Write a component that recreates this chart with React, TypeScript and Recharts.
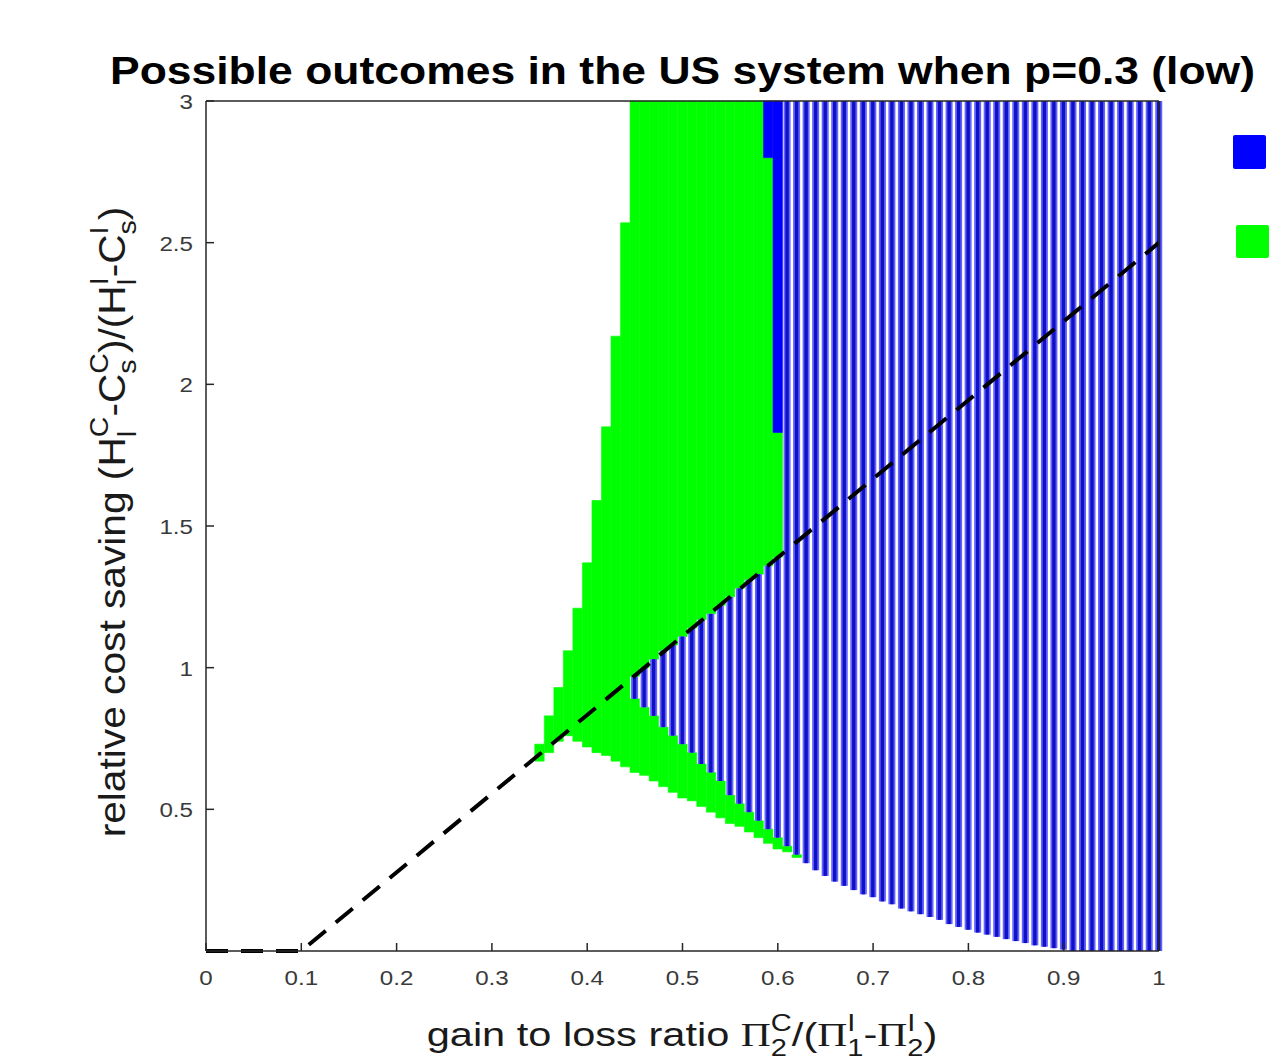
import React from "react";
import { Bar, ComposedChart, Legend, Line, XAxis, YAxis } from "recharts";

const FONT = '"Liberation Sans", Arial, Helvetica, sans-serif';
const SERIF = '"Liberation Serif", "Times New Roman", serif';
const BLUE = "#0000ff";
const GREEN = "#00ff00";
const AXIS = "#262626";

const xTicks = [0, 0.1, 0.2, 0.3, 0.4, 0.5, 0.6, 0.7, 0.8, 0.9, 1];
const yTicks = [0.5, 1, 1.5, 2, 2.5, 3];

// green columns above the dashed line (whole column left of 0.45)
const greenUpperX = [
  0.35, 0.36, 0.37, 0.38, 0.39, 0.4, 0.41, 0.42, 0.43, 0.44, 0.45, 0.46, 0.47,
  0.48, 0.49, 0.5, 0.51, 0.52, 0.53, 0.54, 0.55, 0.56, 0.57, 0.58, 0.59, 0.6,
];
const greenTipLow = [0.67, 0.7, 0.74, 0.76, 0.74, 0.72, 0.7, 0.69, 0.67, 0.65];
// where the green meets the stripes, along the dashed line (x = 0.45 .. 0.60)
const dashedEdge = [
  0.97, 1.0, 1.03, 1.06, 1.08, 1.11, 1.14, 1.17, 1.19, 1.22, 1.25, 1.28, 1.31,
  1.33, 1.36, 1.39,
];
const greenUpperHigh = [
  0.73, 0.83, 0.93, 1.06, 1.21, 1.37, 1.59, 1.85, 2.17, 2.57, 3, 3, 3, 3, 3, 3,
  3, 3, 3, 3, 3, 3, 3, 3, 2.8, 1.83,
];

// green triangle under the stripes
const greenLowerX = [
  0.45, 0.46, 0.47, 0.48, 0.49, 0.5, 0.51, 0.52, 0.53, 0.54, 0.55, 0.56, 0.57,
  0.58, 0.59, 0.6, 0.61, 0.62,
];
const greenLowerLow = [
  0.63, 0.62, 0.6, 0.58, 0.56, 0.54, 0.53, 0.51, 0.49, 0.47, 0.45, 0.44, 0.42,
  0.4, 0.38, 0.36, 0.35, 0.33,
];

// blue hatched columns
const stripeX = [
  0.45, 0.46, 0.47, 0.48, 0.49, 0.5, 0.51, 0.52, 0.53, 0.54, 0.55, 0.56, 0.57,
  0.58, 0.59, 0.6, 0.61, 0.62, 0.63, 0.64, 0.65, 0.66, 0.67, 0.68, 0.69, 0.7,
  0.71, 0.72, 0.73, 0.74, 0.75, 0.76, 0.77, 0.78, 0.79, 0.8, 0.81, 0.82, 0.83,
  0.84, 0.85, 0.86, 0.87, 0.88, 0.89, 0.9, 0.91, 0.92, 0.93, 0.94, 0.95, 0.96,
  0.97, 0.98, 0.99, 1,
];
const stripeLow = [
  0.89, 0.86, 0.83, 0.79, 0.76, 0.73, 0.7, 0.66, 0.63, 0.6, 0.55, 0.52, 0.49,
  0.46, 0.43, 0.4, 0.37, 0.34, 0.31, 0.285, 0.265, 0.245, 0.23, 0.215, 0.2,
  0.19, 0.175, 0.165, 0.15, 0.14, 0.13, 0.12, 0.11, 0.095, 0.085, 0.075, 0.065,
  0.058, 0.05, 0.042, 0.035, 0.028, 0.02, 0.015, 0.01, 0.005, 0, 0, 0, 0, 0, 0,
  0, 0, 0, 0,
];
const stripeTop = 3;

// solid blue block next to the green
const solidX = [0.59, 0.6];
const solidLow = [2.8, 1.83];
const solidHigh = [3, 3];

// dashed boundary line
const dashX = [0, 0.1, 1];
const dashY = [0, 0, 2.5];

type Row = { x: number; [k: string]: number | number[] };
const rowMap = new Map<string, Row>();
function put(xs: number[], key: string, lo: number[], hi: number[]) {
  xs.forEach((x, i) => {
    const k = x.toFixed(2);
    const row = rowMap.get(k) ?? { x };
    row[key] = [lo[i], hi[i]];
    rowMap.set(k, row);
  });
}
put(greenUpperX, "greenUpper", [...greenTipLow, ...dashedEdge], greenUpperHigh);
put(greenLowerX, "greenLower", greenLowerLow, stripeLow.slice(0, greenLowerX.length));
put(
  stripeX,
  "stripe",
  stripeLow,
  stripeX.map((_, i) => (i < dashedEdge.length ? dashedEdge[i] : stripeTop)),
);
put(solidX, "solid", solidLow, solidHigh);
const rows = [...rowMap.values()].sort((a, b) => a.x - b.x);
const dashData = dashX.map((x, i) => ({ x, y: dashY[i] }));

function Stripe(props: any) {
  const { x, y, width, height } = props;
  if (!height || !Number.isFinite(y)) return null;
  const top = Math.min(y, y + height);
  const h = Math.abs(height);
  return (
    <g>
      <rect x={x} y={top} width={width} height={h} fill="#6262ff" />
      <rect x={x + 1.8} y={top} width={width - 3.6} height={h} fill="#1010c4" />
    </g>
  );
}

function XTick({ x, y, payload }: any) {
  return (
    <g transform={`translate(${x},${y})`}>
      <text
        transform="scale(1.15,1)"
        textAnchor="middle"
        dy={16}
        fontFamily={FONT}
        fontSize={21}
        fill="#3a3a3a"
      >
        {String(payload.value)}
      </text>
    </g>
  );
}

function YTick({ x, y, payload }: any) {
  return (
    <g transform={`translate(${x},${y})`}>
      <text
        transform="scale(1.15,1)"
        textAnchor="end"
        dy={8}
        fontFamily={FONT}
        fontSize={21}
        fill="#3a3a3a"
      >
        {String(payload.value)}
      </text>
    </g>
  );
}

type Part = { t: string; serif?: boolean } | { sup: string; sub: string };
const ADV: Record<string, number> = { C: 0.722, I: 0.278, l: 0.222, s: 0.5, "1": 0.556, "2": 0.556 };

function rich(parts: Part[], fs: number) {
  const small = fs * 0.7;
  const up = fs * 0.45;
  const down = fs * 0.3;
  let dx = 0;
  let dy = 0;
  const out: React.ReactNode[] = [];
  parts.forEach((p, i) => {
    if ("t" in p) {
      out.push(
        <tspan key={i} dx={dx || undefined} dy={dy || undefined} fontSize={fs} fontFamily={p.serif ? SERIF : FONT}>
          {p.t}
        </tspan>,
      );
      dx = 0;
      dy = 0;
    } else {
      const wSup = (ADV[p.sup] ?? 0.6) * small;
      const wSub = (ADV[p.sub] ?? 0.6) * small;
      out.push(
        <tspan key={i + "a"} dx={dx || undefined} dy={dy - up} fontSize={small}>
          {p.sup}
        </tspan>,
        <tspan key={i + "b"} dx={-wSup} dy={up + down} fontSize={small}>
          {p.sub}
        </tspan>,
      );
      dx = Math.max(0, wSup - wSub);
      dy = -down;
    }
  });
  return out;
}

const yLabelParts: Part[] = [
  { t: "relative cost saving (H" },
  { sup: "C", sub: "l" },
  { t: "-C" },
  { sup: "C", sub: "s" },
  { t: ")/(H" },
  { sup: "I", sub: "l" },
  { t: "-C" },
  { sup: "I", sub: "s" },
  { t: ")" },
];
const xLabelParts: Part[] = [
  { t: "gain to loss ratio " },
  { t: "\u03A0", serif: true },
  { sup: "C", sub: "2" },
  { t: "/(" },
  { t: "\u03A0", serif: true },
  { sup: "I", sub: "1" },
  { t: "-" },
  { t: "\u03A0", serif: true },
  { sup: "I", sub: "2" },
  { t: ")" },
];

function LegendBoxes() {
  return (
    <div style={{ position: "relative", width: 40, height: 130 }}>
      <div style={{ position: "absolute", left: 0, top: 0, width: 33, height: 34, background: BLUE, borderRadius: 2 }} />
      <div style={{ position: "absolute", left: 3, top: 90, width: 33, height: 33, background: GREEN, borderRadius: 2 }} />
    </div>
  );
}

export default function App() {
  return (
    <div style={{ position: "absolute", left: 0, top: 0, width: 1280, height: 1062, overflow: "hidden", background: "#fff" }}>
      <ComposedChart
        width={1280}
        height={1062}
        data={rows}
        margin={{ top: 81, right: 101, bottom: 11, left: 106 }}
      >
        <XAxis
          xAxisId={0}
          dataKey="x"
          type="number"
          domain={[0, 1]}
          ticks={xTicks}
          height={100}
          tickSize={-8}
          tickMargin={26}
          tick={<XTick />}
          stroke={AXIS}
          strokeWidth={1.5}
        />
        <XAxis
          xAxisId="top"
          orientation="top"
          type="number"
          domain={[0, 1]}
          ticks={xTicks}
          height={20}
          tickSize={-8}
          tick={false}
          stroke={AXIS}
          strokeWidth={1.5}
        />
        <XAxis xAxisId="g1" dataKey="x" type="number" domain={[0, 1]} hide />
        <XAxis xAxisId="g2" dataKey="x" type="number" domain={[0, 1]} hide />
        <XAxis xAxisId="b2" dataKey="x" type="number" domain={[0, 1]} hide />
        <XAxis xAxisId="dash" dataKey="x" type="number" domain={[0, 1]} hide />
        <YAxis
          yAxisId={0}
          type="number"
          domain={[0, 3]}
          ticks={yTicks}
          width={100}
          tickSize={-8}
          tickMargin={21}
          tick={<YTick />}
          stroke={AXIS}
          strokeWidth={1.5}
        />
        <YAxis
          yAxisId="right"
          orientation="right"
          type="number"
          domain={[0, 3]}
          ticks={yTicks}
          width={20}
          tickSize={-8}
          tick={false}
          stroke={AXIS}
          strokeWidth={1.5}
        />

        <Bar
          xAxisId="g1"
          dataKey="greenUpper"
          barSize={9.4}
          fill={GREEN}
          stroke={GREEN}
          strokeWidth={0.6}
          isAnimationActive={false}
        />
        <Bar
          xAxisId="g2"
          dataKey="greenLower"
          barSize={9.4}
          fill={GREEN}
          stroke={GREEN}
          strokeWidth={0.6}
          isAnimationActive={false}
        />
        <Bar xAxisId={0} dataKey="stripe" barSize={7} shape={<Stripe />} isAnimationActive={false} />
        <Bar
          xAxisId="b2"
          dataKey="solid"
          barSize={9.4}
          fill={BLUE}
          stroke={BLUE}
          strokeWidth={0.6}
          isAnimationActive={false}
        />
        <Line
          xAxisId="dash"
          data={dashData}
          dataKey="y"
          stroke="#000"
          strokeWidth={4}
          strokeDasharray="22 13"
          dot={false}
          isAnimationActive={false}
        />

        <Legend
          layout="vertical"
          align="center"
          verticalAlign="middle"
          wrapperStyle={{ position: "absolute", left: 1233, top: 135, width: 40 }}
          content={() => <LegendBoxes />}
        />

        <text
          x={110}
          y={84}
          textLength={1145}
          lengthAdjust="spacingAndGlyphs"
          fontFamily={FONT}
          fontWeight="bold"
          fontSize={39}
          fill="#000"
        >
          Possible outcomes in the US system when p=0.3 (low)
        </text>
        <g transform="translate(125,522) rotate(-90) scale(1.1,1)">
          <text textAnchor="middle" fontFamily={FONT} fill="#1a1a1a">
            {rich(yLabelParts, 37)}
          </text>
        </g>
        <g transform="translate(682,1046) scale(1.26,1)">
          <text textAnchor="middle" fontFamily={FONT} fill="#1a1a1a">
            {rich(xLabelParts, 33)}
          </text>
        </g>
      </ComposedChart>
    </div>
  );
}
